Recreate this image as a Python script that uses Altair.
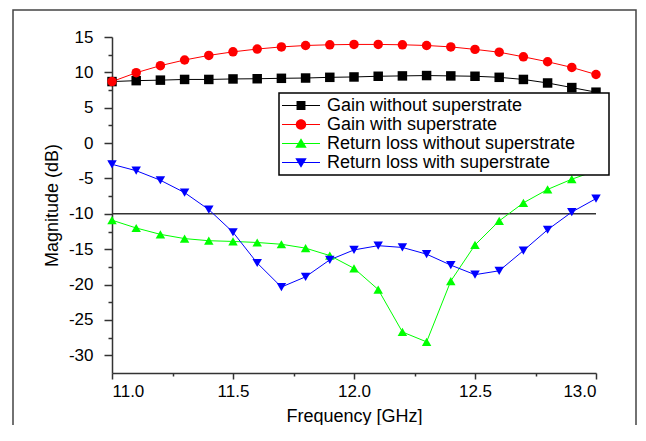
import altair as alt
import pandas as pd

# ---- data ----
freq = [11.0, 11.1, 11.2, 11.3, 11.4, 11.5, 11.6, 11.7, 11.8, 11.9, 12.0,
        12.1, 12.2, 12.3, 12.4, 12.5, 12.6, 12.7, 12.8, 12.9, 13.0]
gain_without = [8.7, 8.83, 8.9, 9.0, 9.0, 9.07, 9.1, 9.16, 9.2, 9.3, 9.35,
                9.45, 9.5, 9.55, 9.5, 9.45, 9.3, 9.0, 8.5, 7.85, 7.2]
gain_with = [8.7, 9.95, 10.95, 11.75, 12.4, 12.9, 13.3, 13.6, 13.8, 13.9, 13.95,
             13.95, 13.9, 13.8, 13.6, 13.25, 12.85, 12.2, 11.5, 10.7, 9.7]
rl_without = [-10.9, -12.0, -12.9, -13.5, -13.8, -13.9, -14.05, -14.3, -14.85, -15.9, -17.7,
              -20.7, -26.7, -28.1, -19.5, -14.4, -11.0, -8.45, -6.55, -5.1, -3.9]
rl_with = [-3.0, -3.9, -5.25, -7.0, -9.4, -12.6, -16.95, -20.35, -18.9, -16.5, -15.1,
           -14.5, -14.75, -15.7, -17.25, -18.6, -18.05, -15.2, -12.25, -9.75, -7.85]

series_names = ["Gain without superstrate", "Gain with superstrate",
                "Return loss without superstrate", "Return loss with superstrate"]
series_values = [gain_without, gain_with, rl_without, rl_with]
colors = ["#000000", "#ff0000", "#00ff00", "#0000ff"]
shapes = ["square", "circle", "triangle-up", "triangle-down"]

x_ticks = [11.0, 11.25, 11.5, 11.75, 12.0, 12.25, 12.5, 12.75, 13.0]
y_ticks = [-30, -27.5, -25, -22.5, -20, -17.5, -15, -12.5, -10, -7.5, -5, -2.5,
           0, 2.5, 5, 7.5, 10, 12.5, 15]
threshold = [-10]

# legend symbols: line segment + marker (custom paths, unit = half symbol size)
line_seg = "M-1,-0.055H3V0.055H-1Z"
legend_paths = [
    line_seg + "M0.53,-0.47H1.47V0.47H0.53Z",
    line_seg + "M0.45,0A0.55,0.55 0 1,1 1.55,0A0.55,0.55 0 1,1 0.45,0Z",
    line_seg + "M1,-0.55L1.6,0.45L0.4,0.45Z",
    line_seg + "M1,0.55L0.4,-0.45L1.6,-0.45Z",
]

rows = []
for name, vals in zip(series_names, series_values):
    for f, v in zip(freq, vals):
        rows.append({"freq": f, "mag": v, "series": name})
df = pd.DataFrame(rows)

FONT = "Liberation Sans"

x_major = "abs(datum.value*2 - round(datum.value*2)) < 0.01"
y_major = "abs(datum.value % 5) < 0.01"

x_axis = alt.Axis(
    title="Frequency [GHz]", values=x_ticks, format=".1f",
    labelExpr=x_major + " ? datum.label : ''",
    tickSize={"condition": {"test": x_major, "value": 6}, "value": 3},
    labelPadding=4, grid=False, labelOverlap=False,
    titleY=43, titleBaseline="middle")
y_axis = alt.Axis(
    title="Magnitude (dB)", values=y_ticks,
    labelExpr=y_major + " ? replace(datum.label, '\u2212', '-') : ''",
    tickSize={"condition": {"test": y_major, "value": 8}, "value": 4},
    labelPadding=11, grid=False, labelOverlap=False,
    titleX=-60, titleBaseline="middle")
x_scale = alt.Scale(domain=[11, 13], nice=False, zero=False)
y_scale = alt.Scale(domain=[-32.5, 15], nice=False, zero=False)

x_enc = alt.X("freq:Q", scale=x_scale, axis=x_axis)
y_enc = alt.Y("mag:Q", scale=y_scale, axis=y_axis)

color_enc = alt.Color("series:N", scale=alt.Scale(domain=series_names, range=colors), legend=None)

frame = alt.Chart(pd.DataFrame({"a": [0]})).mark_rect(
    fillOpacity=0, stroke="#444444", strokeWidth=1.5
).encode(x=alt.value(-99), x2=alt.value(524), y=alt.value(-27), y2=alt.value(520))

rule_df = pd.DataFrame({"mag": threshold, "freq": [freq[0]], "freq2": [freq[-1]]})
rule = alt.Chart(rule_df).mark_rule(color="#333333", strokeWidth=1.5).encode(
    x=x_enc, x2="freq2:Q", y=y_enc)

lines = alt.Chart(df).mark_line(strokeWidth=1).encode(
    x=x_enc, y=y_enc, color=color_enc, detail="series:N")

points = alt.Chart(df).mark_point(filled=True, size=90, opacity=1).encode(
    x=x_enc, y=y_enc, color=color_enc,
    shape=alt.Shape("series:N", scale=alt.Scale(domain=series_names, range=shapes), legend=None))

leg = alt.Legend(title=".", titleOrient="right", titleColor="white", titleFontSize=10,
                 titlePadding=28,
                 orient="none", legendX=167, legendY=56, padding=3,
                 strokeColor="black", fillColor="white", symbolSize=361,
                 symbolStrokeWidth=0, symbolOpacity=1, labelOffset=26, rowPadding=0,
                 labelFont=FONT, labelFontSize=18, labelColor="black", labelLimit=500)

legend_layer = alt.Chart(df).transform_filter("datum.freq > 100").mark_point(
    filled=True, opacity=1).encode(
    x=x_enc, y=y_enc,
    fill=alt.Fill("series:N", scale=alt.Scale(domain=series_names, range=colors), legend=leg),
    shape=alt.Shape("series:N", scale=alt.Scale(domain=series_names, range=legend_paths), legend=leg))

chart = alt.layer(frame, rule, lines, points, legend_layer).resolve_scale(
    shape="independent", fill="independent"
).properties(
    width=484, height=336,
    autosize=alt.AutoSizeParams(type="none"),
    padding={"left": 104, "top": 29, "right": 41, "bottom": 52},
    background="white",
).configure_view(stroke="transparent").configure_axis(
    domainColor="#333333", domainWidth=1.5, tickColor="#333333", tickWidth=1.5,
    labelFont=FONT, labelFontSize=17, labelColor="black",
    titleFont=FONT, titleFontSize=18, titleFontWeight="normal", titleColor="black",
).configure_legend(strokeWidth=1.5, cornerRadius=0)

chart.save("out.html", embed_options={"renderer": "svg", "actions": False})
